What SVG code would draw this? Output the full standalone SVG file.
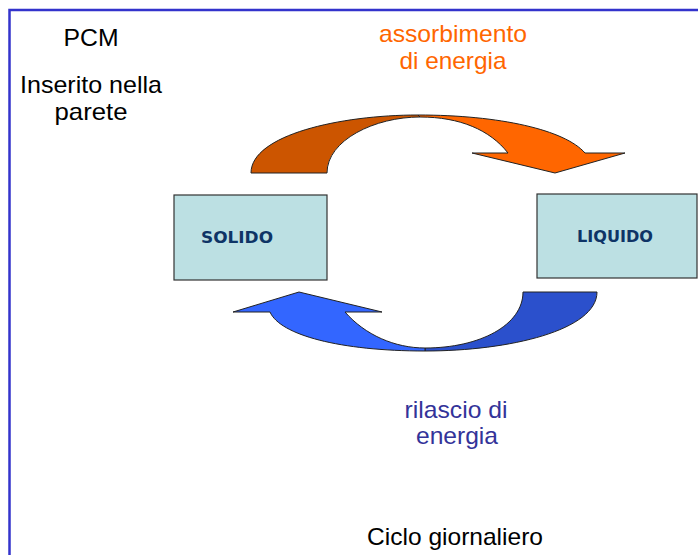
<svg xmlns="http://www.w3.org/2000/svg" width="698" height="555" viewBox="0 0 698 555">
<style>
.t{font-family:"Liberation Sans",Arial,sans-serif;font-size:24px;text-anchor:middle}
.box{fill:#BCE0E3;stroke:#333;stroke-width:1.2}
.lbl{font-family:"DejaVu Sans",Verdana,sans-serif;font-weight:bold;font-size:16px;fill:#0E3466;text-anchor:middle}
.arr{stroke:#222;stroke-width:1;stroke-linejoin:round}
</style>
<rect width="698" height="555" fill="#fff"/>
<path d="M9.5,555 V10 H698" fill="none" stroke="#3333CC" stroke-width="2.5"/>
<g id="text-left">
<text class="t" x="91" y="46" textLength="55" lengthAdjust="spacingAndGlyphs">PCM</text>
<text class="t" x="91" y="92.5" textLength="142" lengthAdjust="spacingAndGlyphs">Inserito nella</text>
<text class="t" x="91" y="120" textLength="73" lengthAdjust="spacingAndGlyphs">parete</text>
</g>
<g id="connectors">
<g id="arrow-top">
<path class="arr" fill="#CC5500" d="M251,173 C251,135 340,115 418,115 L420,117 C375,117 327,140 327,173 Z"/>
<path class="arr" fill="#FF6600" d="M418,115 C500,115 565,130 585,153 L625,153 L555,173 L472,153 L508,153 C490,130 460,117 420,117 Z"/>
</g>
<g id="arrow-bottom">
<path class="arr" fill="#2B50CC" d="M597,292 C597,330 510,351 425,351 L425,348 C480,348 523,325 523,292 Z"/>
<path class="arr" fill="#3366FF" d="M425,351 C340,351 280,335 270,312 L233,312 L299,292 L382,312 L345,312 C365,335 395,348 425,348 Z"/>
</g>
</g>
<g id="label-assorbimento" style="font-family:'Liberation Sans',Arial,sans-serif;font-size:24px;fill:#FF6600;text-anchor:middle">
<text x="453" y="42" textLength="148" lengthAdjust="spacingAndGlyphs">assorbimento</text>
<text x="453" y="68.5" textLength="107" lengthAdjust="spacingAndGlyphs">di energia</text>
</g>
<g id="node-solido">
<rect class="box" x="174" y="195" width="153" height="85"/>
<text class="lbl" x="237" y="243" textLength="72" lengthAdjust="spacingAndGlyphs">SOLIDO</text>
</g>
<g id="node-liquido">
<rect class="box" x="537" y="194" width="160" height="84"/>
<text class="lbl" x="615" y="242" textLength="76" lengthAdjust="spacingAndGlyphs">LIQUIDO</text>
</g>
<g id="label-rilascio" style="font-family:'Liberation Sans',Arial,sans-serif;font-size:24px;fill:#333399;text-anchor:middle">
<text x="456" y="418" textLength="103" lengthAdjust="spacingAndGlyphs">rilascio di</text>
<text x="457" y="443.5" textLength="82" lengthAdjust="spacingAndGlyphs">energia</text>
</g>
<text class="t" x="455" y="545" textLength="176" lengthAdjust="spacingAndGlyphs">Ciclo giornaliero</text>
</svg>
